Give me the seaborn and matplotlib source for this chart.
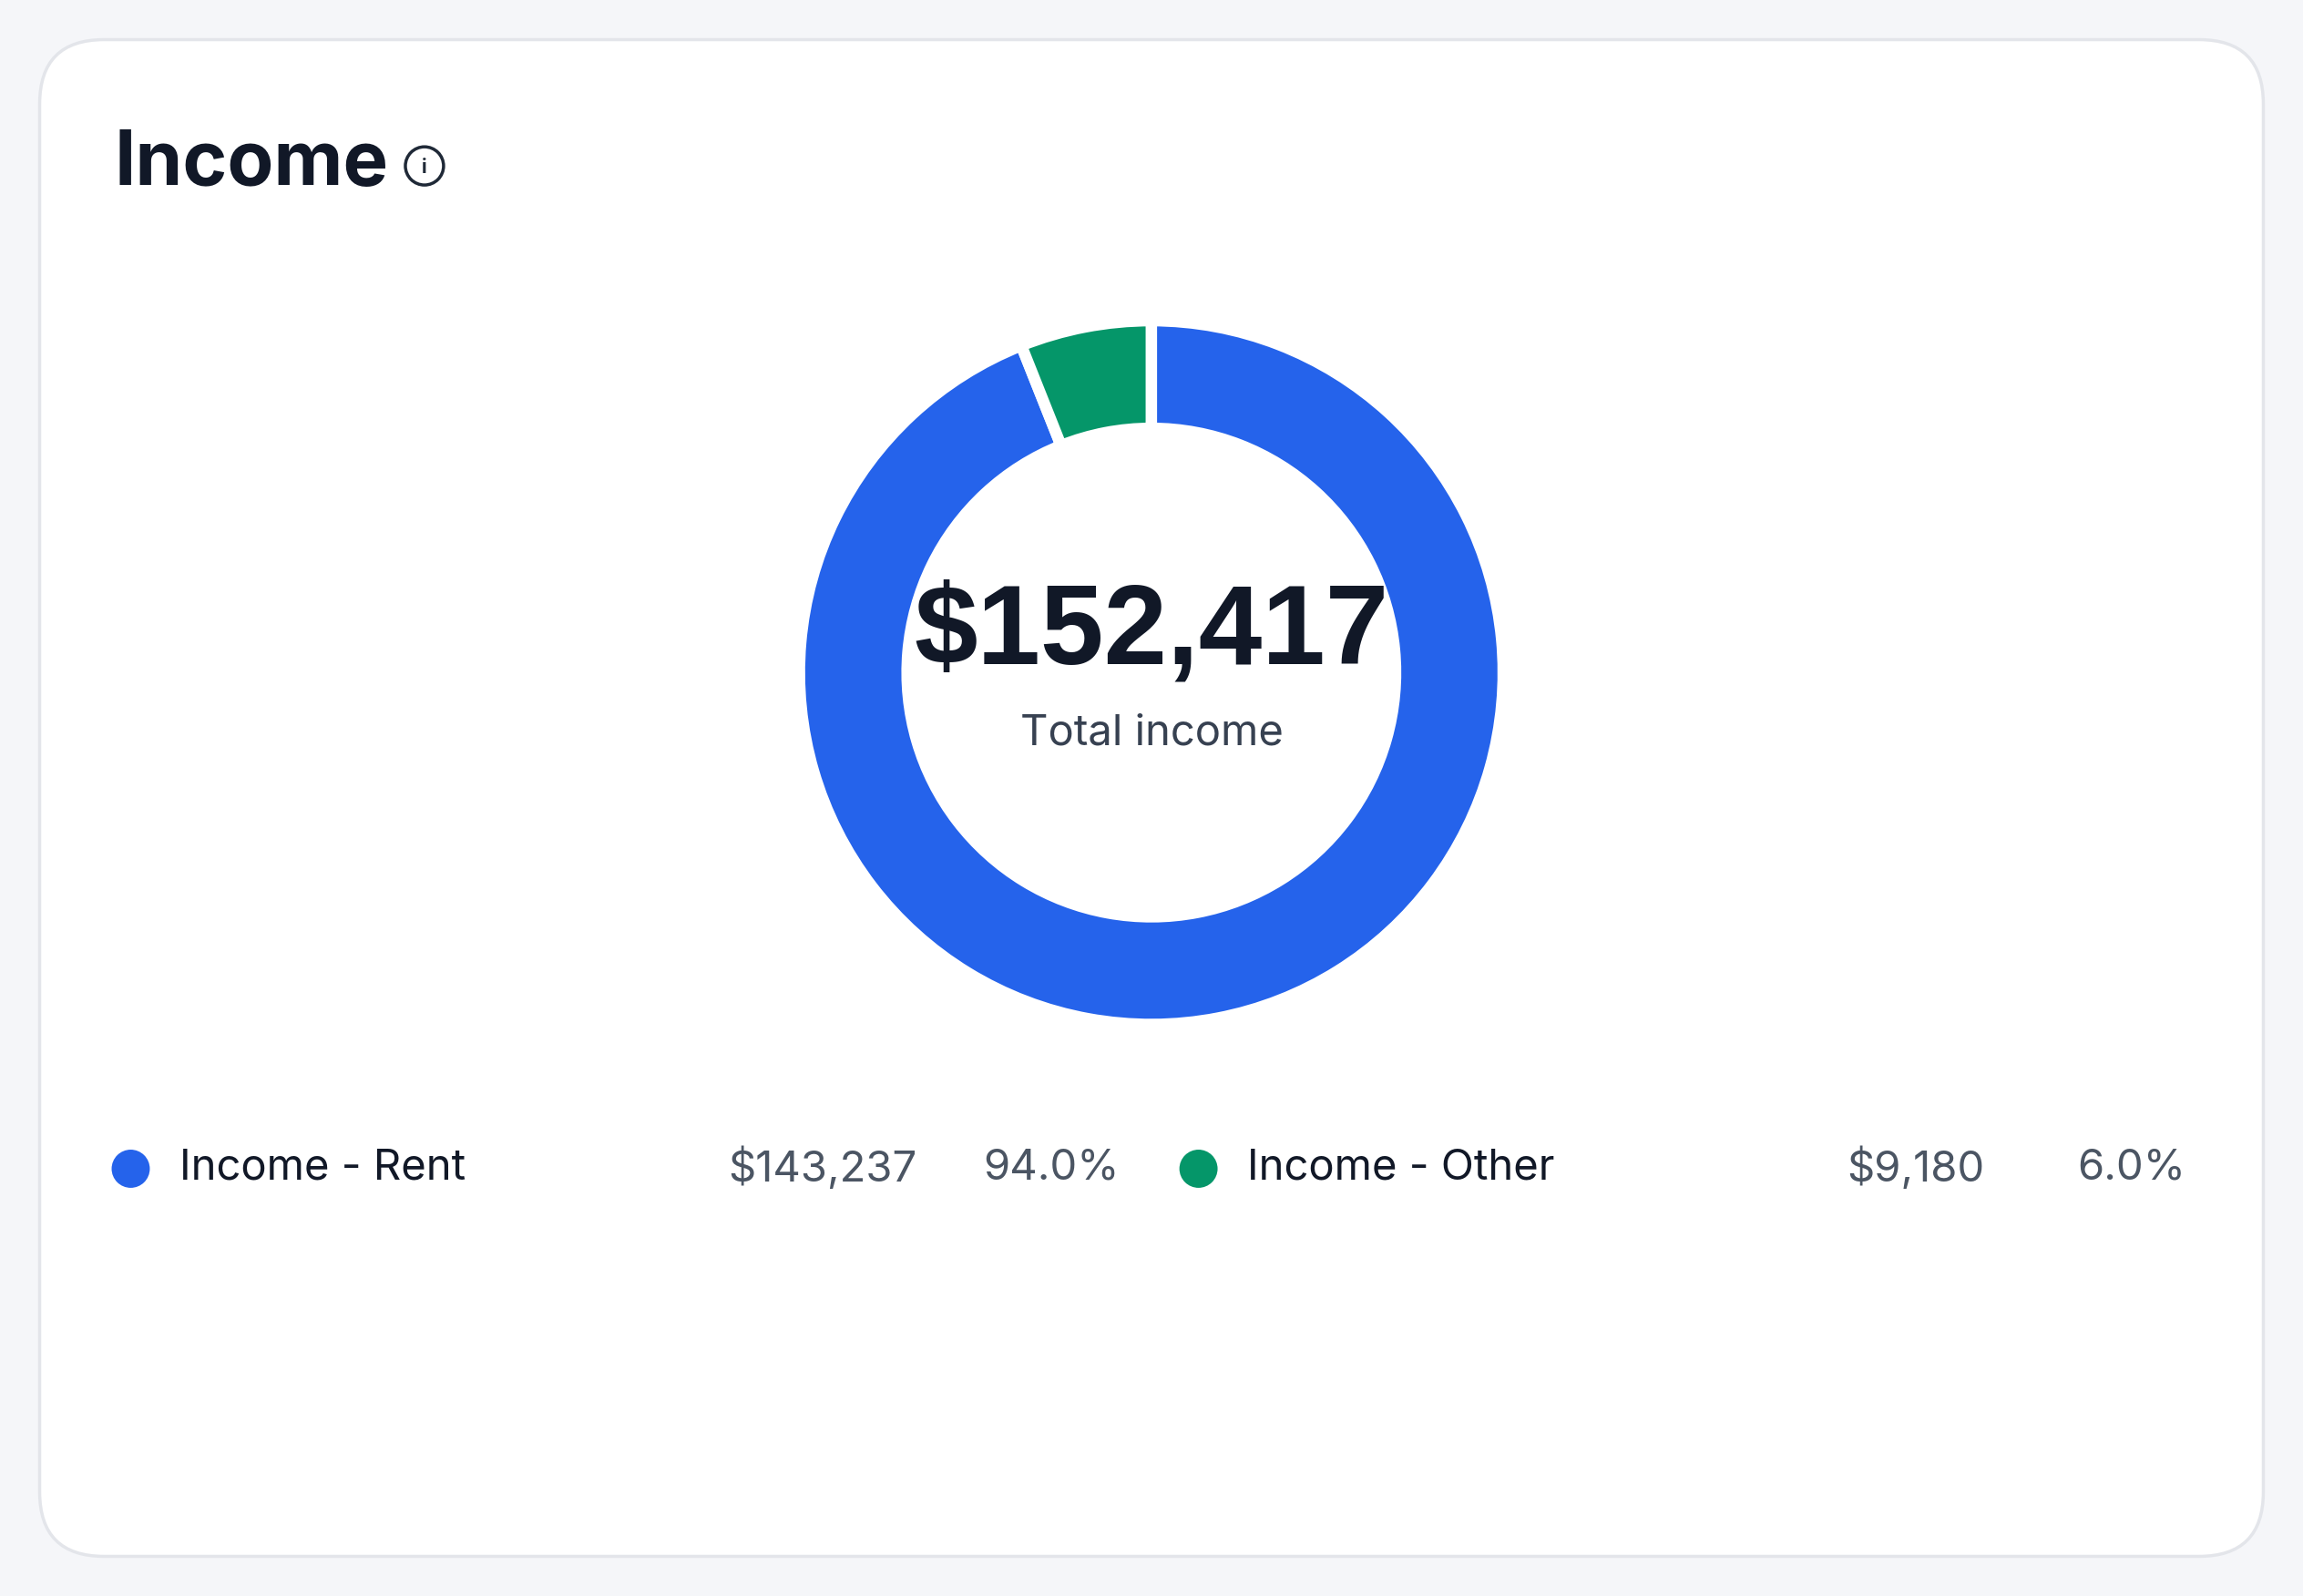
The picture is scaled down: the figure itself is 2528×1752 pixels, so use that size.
import matplotlib
matplotlib.use("Agg")
import matplotlib.pyplot as plt
import seaborn as sns
from matplotlib.patches import FancyBboxPatch, Ellipse

categories = ["Income - Rent", "Income - Other"]
values = [143237, 9180]
amount_labels = ["$143,237", "$9,180"]
pct_labels = ["94.0%", "6.0%"]
colors = ["#2563eb", "#059669"]
total_label = "$152,417"

sns.set_theme(style="white")
plt.rcParams['font.family'] = ['Inter', 'DejaVu Sans']

W, H = 2528, 1752
RW, RH = 1568, 1087
fig = plt.figure(figsize=(W/100, H/100), dpi=100)
fig.patch.set_facecolor("#f5f6f9")

def fx(x): return x / RW
def fy(y): return 1 - y / RH

def circ(x, y, r_ref, **kw):
    rp = r_ref * 1.612
    return Ellipse((fx(x), fy(y)), 2*rp/W, 2*rp/H, transform=fig.transFigure, zorder=3, **kw)

card = FancyBboxPatch((fx(27), fy(1060)), fx(1541) - fx(27), fy(27) - fy(1060),
                      boxstyle="round,pad=0,rounding_size=0.028", transform=fig.transFigure,
                      facecolor="white", edgecolor="#e3e5ea", linewidth=2.5,
                      mutation_aspect=W/H, zorder=-5)
fig.patches.append(card)

fig.text(fx(78), fy(112), "Income", fontsize=60, fontweight="bold", color="#111827", va="center", ha="left")
fig.patches.append(circ(289, 113, 13, fill=False, edgecolor="#1f2937", linewidth=2.5))
fig.text(fx(289), fy(114), "i", fontsize=15, color="#1f2937", ha="center", va="center", fontweight="bold")

# donut
cx, cy, r = 784*1.612, 458*1.612, 242*1.612
ax = fig.add_axes([(cx - r)/W, 1 - (cy + r)/H, 2*r/W, 2*r/H], zorder=2)
ax.patch.set_alpha(0)
ax.pie(values, colors=colors, startangle=90, counterclock=False, radius=1,
       wedgeprops=dict(width=74/242, edgecolor="white", linewidth=9))
ax.set_xlim(-1.01, 1.01); ax.set_ylim(-1.01, 1.01)
ax.set_aspect("equal")
ax.axis("off")

fig.text(fx(784), fy(432), total_label, fontsize=90, fontweight="bold", color="#111827",
         ha="center", va="center", family=["Liberation Sans", "DejaVu Sans"], zorder=5)
fig.text(fx(784), fy(500), "Total income", fontsize=34, color="#374151", ha="center", va="center", zorder=5)

# legend
dot_x = [89, 816]; name_x = [122, 849]; amt_x = [624, 1351]; pct_x = [762, 1488]
ly = fy(796)
for i in range(len(categories)):
    fig.patches.append(circ(dot_x[i], 796, 13, facecolor=colors[i], edgecolor="none"))
    fig.text(fx(name_x[i]), ly, categories[i], fontsize=34, color="#111827", ha="left", va="center")
    fig.text(fx(amt_x[i]), ly, amount_labels[i], fontsize=34, color="#4b5563", ha="right", va="center")
    fig.text(fx(pct_x[i]), ly, pct_labels[i], fontsize=34, color="#4b5563", ha="right", va="center")

fig.savefig("out.png", dpi=100, facecolor=fig.get_facecolor())
